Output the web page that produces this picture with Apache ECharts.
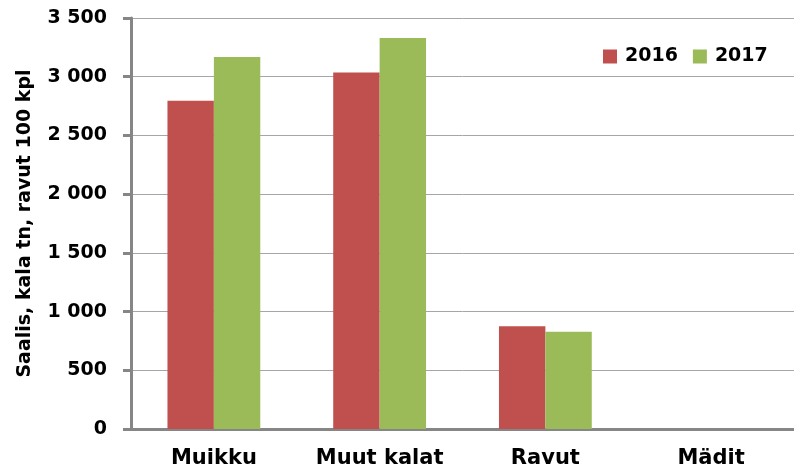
<!DOCTYPE html>
<html>
<head>
  <meta charset="utf-8" />
  <title>Saalis</title>
  <script src="https://cdn.jsdelivr.net/npm/echarts@6/dist/echarts.min.js"></script>
  <style>
    html, body { margin: 0; padding: 0; background: #fff; }
  </style>
</head>
<body>
  <div id="main" style="width: 794px;height:475px;"></div>
  <script type="text/javascript">
    // saalis lajeittain, 2016 ja 2017
    var categories = ['Muikku', 'Muut kalat', 'Ravut', 'Mädit'];
    var years = ['2016', '2017'];
    var values2016 = [2795, 3036, 875, 0];
    var values2017 = [3167, 3330, 829, 0];

    var wide = '"DejaVu Sans", sans-serif';
    var axisGray = '#868686';

    var myChart = echarts.init(document.getElementById('main'));

    var option = {
      animation: false,
      legend: {
        data: years,
        left: 598,
        top: 42,
        itemWidth: 14,
        itemHeight: 14,
        itemGap: 15,
        icon: 'rect',
        textStyle: {
          fontSize: 19, fontWeight: 'bold', color: '#000', fontFamily: wide,
          padding: [0, 0, 0, 3]
        }
      },
      grid: {
        left: 131,
        top: 18,
        width: 672,
        height: 411
      },
      xAxis: {
        type: 'category',
        data: categories,
        axisLine: { lineStyle: { color: axisGray, width: 3 } },
        axisTick: { length: 6, lineStyle: { color: axisGray, width: 3 } },
        axisLabel: {
          interval: 0,
          margin: 19,
          fontSize: 21,
          fontWeight: 'bold',
          color: '#000',
          fontFamily: wide
        }
      },
      yAxis: {
        type: 'value',
        min: 0,
        max: 3500,
        interval: 500,
        name: 'Saalis, kala tn, ravut 100 kpl',
        nameLocation: 'middle',
        nameGap: 96,
        nameTextStyle: { fontSize: 19, fontWeight: 'bold', color: '#000', fontFamily: wide },
        axisLine: { show: true, lineStyle: { color: axisGray, width: 3 } },
        axisTick: { show: true, length: 8, lineStyle: { color: axisGray, width: 3 } },
        splitLine: { lineStyle: { color: '#a6a6a6', width: 1 } },
        axisLabel: {
          margin: 24,
          fontSize: 19,
          fontWeight: 'bold',
          color: '#000',
          fontFamily: wide,
          formatter: function (v) {
            return String(v).replace(/\B(?=(\d{3})+(?!\d))/g, ' ');
          }
        }
      },
      series: [
        {
          name: years[0],
          type: 'bar',
          data: values2016,
          barGap: '0%',
          barCategoryGap: '44%',
          itemStyle: { color: '#C0504D' }
        },
        {
          name: years[1],
          type: 'bar',
          data: values2017,
          barGap: '0%',
          barCategoryGap: '44%',
          itemStyle: { color: '#9BBB59' }
        }
      ]
    };

    option && myChart.setOption(option);
  </script>
</body>
</html>
